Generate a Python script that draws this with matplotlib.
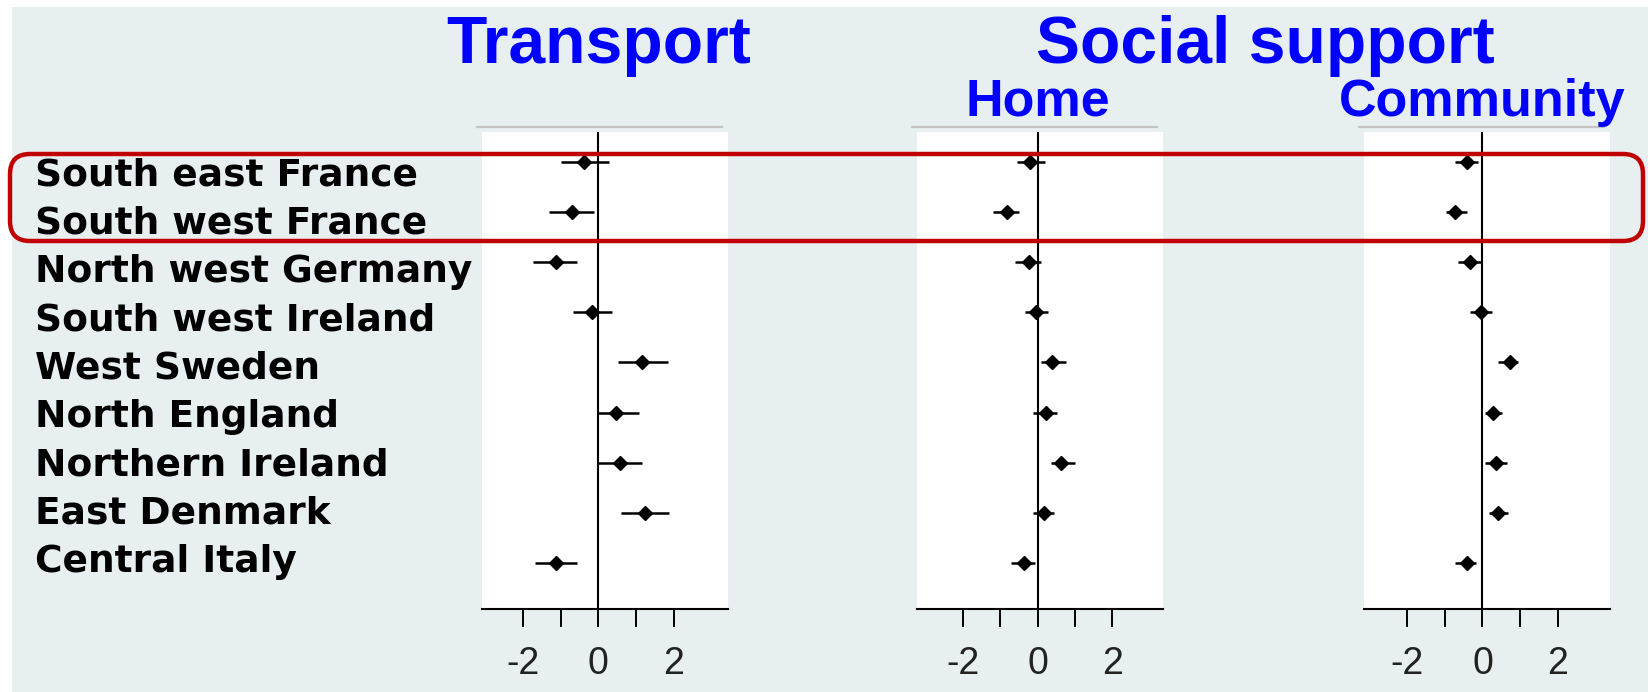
import numpy as np
import matplotlib
matplotlib.use("Agg")
import matplotlib.pyplot as plt
from matplotlib.patches import FancyBboxPatch, Rectangle
from matplotlib.transforms import blended_transform_factory

plt.rcParams['font.family'] = ['Liberation Sans', 'DejaVu Sans']
plt.rcParams['axes.unicode_minus'] = False

regions = ["South east France", "South west France", "North west Germany",
           "South west Ireland", "West Sweden", "North England",
           "Northern Ireland", "East Denmark", "Central Italy"]

transport_est = [-0.37, -0.69, -1.12, -0.16, 1.15, 0.48, 0.56, 1.25, -1.12]
transport_lo = [-0.99, -1.31, -1.73, -0.67, 0.51, 0.00, 0.00, 0.61, -1.68]
transport_hi = [0.27, -0.11, -0.56, 0.37, 1.84, 1.07, 1.15, 1.87, -0.56]

home_est = [-0.19, -0.83, -0.24, -0.03, 0.38, 0.23, 0.64, 0.16, -0.37]
home_lo = [-0.56, -1.20, -0.61, -0.35, 0.08, -0.13, 0.35, -0.13, -0.72]
home_hi = [0.19, -0.51, 0.08, 0.29, 0.77, 0.51, 0.99, 0.45, -0.08]

community_est = [-0.40, -0.74, -0.34, -0.05, 0.72, 0.27, 0.37, 0.42, -0.40]
community_lo = [-0.72, -0.98, -0.64, -0.34, 0.40, 0.08, 0.08, 0.16, -0.72]
community_hi = [-0.11, -0.42, -0.03, 0.24, 0.95, 0.53, 0.64, 0.69, -0.16]

tick_vals = [-2, 0, 2]
minor_vals = [-1, 1]

bg = '#e8eff1'
blue = '#0000ff'

W, H = 1648, 692
fig = plt.figure(figsize=(W / 100, H / 100), dpi=100, facecolor='white')

# light panel behind everything, leaving a thin white strip top and left
fig.add_artist(Rectangle((12 / W, 0), 1 - 12 / W, 1 - 7 / H,
                         transform=fig.transFigure, facecolor=bg,
                         edgecolor='none', zorder=-10))

rows = np.arange(len(regions))

panels = [
    (482, (-3.09, 3.44), transport_est, transport_lo, transport_hi),
    (917, (-3.23, 3.36), home_est, home_lo, home_hi),
    (1364, (-3.15, 3.39), community_est, community_lo, community_hi),
]

axes = []
for left_px, xlim, est, lo, hi in panels:
    ax = fig.add_axes([left_px / W, (H - 609) / H, 246 / W, (609 - 132) / H])
    ax.set_facecolor('white')
    est = np.array(est)
    err = [est - np.array(lo), np.array(hi) - est]
    ax.errorbar(est, rows, xerr=err, fmt='D', color='black', ms=7.5,
                elinewidth=1.8, capsize=0, zorder=3)
    ax.axvline(0, color='black', lw=1.5, zorder=2)
    ax.set_xlim(*xlim)
    ax.set_ylim(8.92, -0.60)
    ax.set_yticks([])
    ax.set_xticks(tick_vals)
    ax.set_xticks(minor_vals, minor=True)
    ax.tick_params(axis='x', which='both', direction='out', length=13,
                   width=1.4, color='black', pad=14, labelsize=27,
                   labelcolor='#222222')
    for side in ['top', 'left', 'right']:
        ax.spines[side].set_visible(False)
    ax.spines['bottom'].set_linewidth(1.5)
    ax.spines['bottom'].set_color('black')
    # thin grey rule above each panel
    ax.plot([-0.02, 0.975], [1.011, 1.011], transform=ax.transAxes,
            clip_on=False, color='#c4c4c4', lw=1.6)
    axes.append(ax)

# region names down the left side
for i, name in enumerate(regions):
    base = 185 + i * 48.375
    fig.text(35 / W, (H - base) / H, name, ha='left', va='baseline',
             fontsize=27, fontweight='bold', color='black',
             family='DejaVu Sans')

# headings
t0 = blended_transform_factory(axes[0].transData, fig.transFigure)
fig.text(0, (H - 63) / H, "Transport", transform=t0, ha='center',
         va='baseline', fontsize=47.5, fontweight='bold', color=blue)
fig.text(1265 / W, (H - 63) / H, "Social support", ha='center',
         va='baseline', fontsize=47.5, fontweight='bold', color=blue)
for ax, sub in zip(axes[1:], ["Home", "Community"]):
    tr = blended_transform_factory(ax.transData, fig.transFigure)
    fig.text(0, (H - 116) / H, sub, transform=tr, ha='center',
             va='baseline', fontsize=37.5, fontweight='bold', color=blue)

# rounded highlight around the two French regions
box = FancyBboxPatch((10 / 100, (H - 241) / 100), 1633 / 100, 87 / 100,
                     boxstyle="round,pad=0,rounding_size=0.2",
                     transform=fig.dpi_scale_trans, facecolor='none',
                     edgecolor='#c00000', lw=3.2, zorder=10)
fig.add_artist(box)

fig.savefig("out.png", dpi=100, facecolor=fig.get_facecolor())
